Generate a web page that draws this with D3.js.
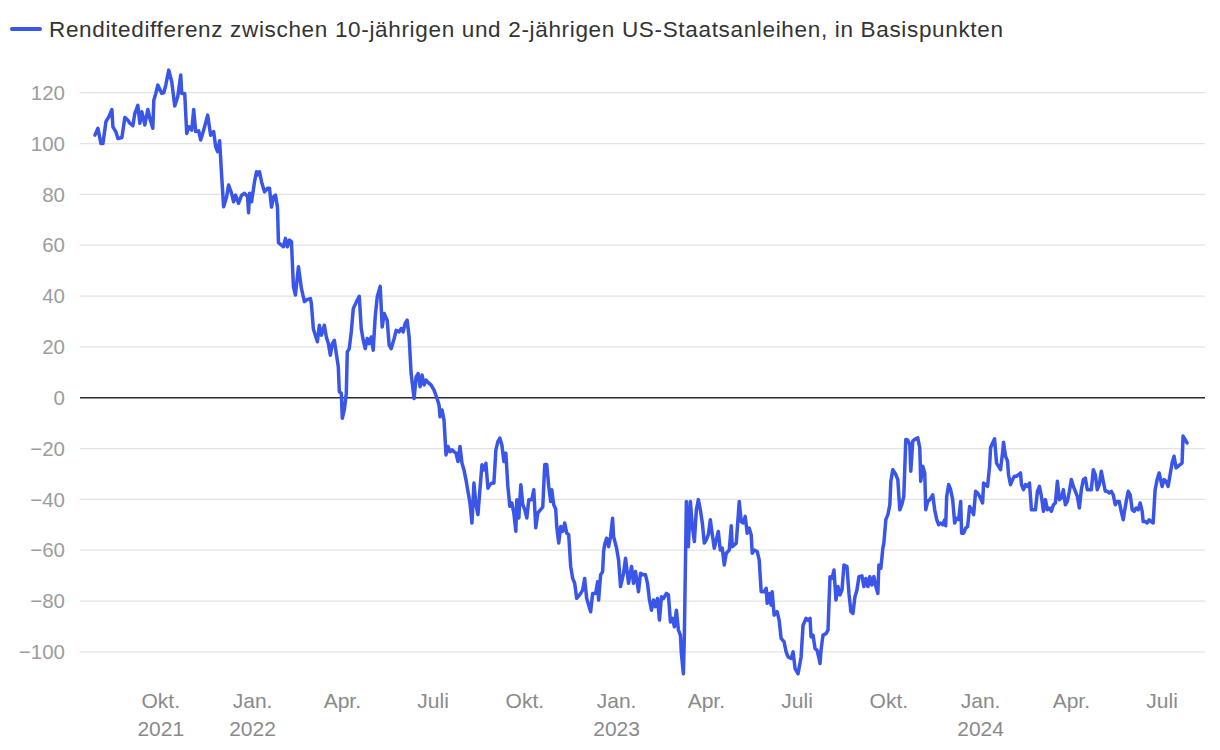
<!DOCTYPE html>
<html><head><meta charset="utf-8">
<script src="https://cdn.jsdelivr.net/npm/d3@7"></script>
<style>
body{margin:0;background:#fff}
svg{display:block}
text{font-family:"Liberation Sans", Arial, Helvetica, sans-serif}
</style>
</head><body>
<svg id="chart" width="1220" height="750"></svg>
<script>
const legendLabel = "Renditedifferenz zwischen 10-jährigen und 2-jährigen US-Staatsanleihen, in Basispunkten";

const dates = [
"2021-07-27","2021-07-30","2021-08-02","2021-08-04","2021-08-07","2021-08-10","2021-08-13","2021-08-14","2021-08-17","2021-08-19",
"2021-08-23","2021-08-26","2021-08-29","2021-08-31","2021-09-03","2021-09-05","2021-09-08","2021-09-10","2021-09-12","2021-09-15",
"2021-09-18","2021-09-20","2021-09-23","2021-09-24","2021-09-26","2021-09-28","2021-10-02","2021-10-04","2021-10-06","2021-10-09",
"2021-10-12","2021-10-15","2021-10-18","2021-10-21","2021-10-22","2021-10-25","2021-10-27","2021-10-29","2021-11-01","2021-11-03",
"2021-11-05","2021-11-08","2021-11-10","2021-11-13","2021-11-17","2021-11-20","2021-11-23","2021-11-25","2021-11-27","2021-11-29",
"2021-12-01","2021-12-03","2021-12-06","2021-12-08","2021-12-11","2021-12-13","2021-12-15","2021-12-18","2021-12-21","2021-12-24",
"2021-12-27","2021-12-28","2021-12-29","2021-12-31","2022-01-03","2022-01-05","2022-01-06","2022-01-08","2022-01-10","2022-01-13",
"2022-01-16","2022-01-18","2022-01-20","2022-01-22","2022-01-24","2022-01-26","2022-01-27","2022-01-30","2022-02-01","2022-02-03",
"2022-02-05","2022-02-07","2022-02-09","2022-02-11","2022-02-13","2022-02-16","2022-02-19","2022-02-22","2022-02-25","2022-02-28",
"2022-03-01","2022-03-03","2022-03-06","2022-03-07","2022-03-09","2022-03-11","2022-03-14","2022-03-16","2022-03-18","2022-03-20",
"2022-03-22","2022-03-24","2022-03-26","2022-03-28","2022-03-29","2022-03-31","2022-04-01","2022-04-03","2022-04-05","2022-04-06",
"2022-04-08","2022-04-10","2022-04-12","2022-04-15","2022-04-18","2022-04-20","2022-04-22","2022-04-24","2022-04-26","2022-04-28",
"2022-04-30","2022-05-02","2022-05-04","2022-05-06","2022-05-09","2022-05-11","2022-05-13","2022-05-16","2022-05-18","2022-05-20",
"2022-05-23","2022-05-25","2022-05-28","2022-05-30","2022-06-01","2022-06-03","2022-06-05","2022-06-07","2022-06-09","2022-06-12",
"2022-06-14","2022-06-16","2022-06-18","2022-06-20","2022-06-22","2022-06-24","2022-06-27","2022-06-29","2022-07-02","2022-07-05",
"2022-07-07","2022-07-08","2022-07-10","2022-07-12","2022-07-14","2022-07-16","2022-07-18","2022-07-20","2022-07-22","2022-07-24",
"2022-07-26","2022-07-28","2022-07-30","2022-08-01","2022-08-03","2022-08-05","2022-08-07","2022-08-09","2022-08-11","2022-08-13",
"2022-08-15","2022-08-17","2022-08-19","2022-08-21","2022-08-23","2022-08-25","2022-08-27","2022-08-29","2022-08-31","2022-09-02",
"2022-09-04","2022-09-06","2022-09-08","2022-09-10","2022-09-12","2022-09-14","2022-09-16","2022-09-18","2022-09-20","2022-09-22",
"2022-09-23","2022-09-25","2022-09-27","2022-09-29","2022-10-01","2022-10-03","2022-10-05","2022-10-08","2022-10-10","2022-10-12",
"2022-10-14","2022-10-19","2022-10-21","2022-10-23","2022-10-25","2022-10-27","2022-10-28","2022-10-30","2022-11-01","2022-11-02",
"2022-11-04","2022-11-06","2022-11-08","2022-11-10","2022-11-12","2022-11-14","2022-11-16","2022-11-18","2022-11-20","2022-11-22",
"2022-11-25","2022-11-28","2022-11-30","2022-12-02","2022-12-04","2022-12-06","2022-12-08","2022-12-11","2022-12-13","2022-12-14",
"2022-12-16","2022-12-18","2022-12-19","2022-12-20","2022-12-22","2022-12-24","2022-12-26","2022-12-28","2022-12-29","2023-01-01",
"2023-01-03","2023-01-05","2023-01-08","2023-01-10","2023-01-13","2023-01-16","2023-01-18","2023-01-20","2023-01-23","2023-01-25",
"2023-01-28","2023-01-30","2023-02-01","2023-02-03","2023-02-05","2023-02-07","2023-02-09","2023-02-11","2023-02-13","2023-02-15",
"2023-02-17","2023-02-20","2023-02-22","2023-02-24","2023-02-26","2023-02-28","2023-03-02","2023-03-04","2023-03-06","2023-03-07",
"2023-03-09","2023-03-10","2023-03-12","2023-03-14","2023-03-16","2023-03-18","2023-03-20","2023-03-22","2023-03-24","2023-03-26",
"2023-03-28","2023-03-30","2023-04-01","2023-04-03","2023-04-05","2023-04-07","2023-04-09","2023-04-11","2023-04-13","2023-04-15",
"2023-04-17","2023-04-19","2023-04-21","2023-04-24","2023-04-26","2023-04-27","2023-04-29","2023-05-01","2023-05-04","2023-05-06",
"2023-05-08","2023-05-10","2023-05-12","2023-05-14","2023-05-16","2023-05-17","2023-05-19","2023-05-22","2023-05-24","2023-05-26",
"2023-05-29","2023-05-31","2023-06-01","2023-06-03","2023-06-05","2023-06-06","2023-06-08","2023-06-11","2023-06-13","2023-06-15",
"2023-06-18","2023-06-20","2023-06-22","2023-06-25","2023-06-27","2023-06-29","2023-07-02","2023-07-05","2023-07-07","2023-07-10",
"2023-07-12","2023-07-14","2023-07-15","2023-07-17","2023-07-19","2023-07-21","2023-07-23","2023-07-24","2023-07-25","2023-07-27",
"2023-07-30","2023-08-01","2023-08-03","2023-08-05","2023-08-07","2023-08-09","2023-08-11","2023-08-13","2023-08-15","2023-08-17",
"2023-08-20","2023-08-22","2023-08-24","2023-08-26","2023-08-28","2023-08-30","2023-09-01","2023-09-04","2023-09-06","2023-09-08",
"2023-09-10","2023-09-12","2023-09-14","2023-09-16","2023-09-18","2023-09-20","2023-09-21","2023-09-23","2023-09-25","2023-09-26",
"2023-09-28","2023-09-30","2023-10-02","2023-10-03","2023-10-05","2023-10-08","2023-10-10","2023-10-12","2023-10-14","2023-10-16",
"2023-10-18","2023-10-20","2023-10-22","2023-10-23","2023-10-25","2023-10-27","2023-10-30","2023-11-01","2023-11-02","2023-11-04",
"2023-11-06","2023-11-07","2023-11-09","2023-11-11","2023-11-14","2023-11-16","2023-11-18","2023-11-20","2023-11-22","2023-11-24",
"2023-11-26","2023-11-27","2023-11-28","2023-11-30","2023-12-02","2023-12-04","2023-12-06","2023-12-08","2023-12-10","2023-12-12",
"2023-12-13","2023-12-15","2023-12-17","2023-12-19","2023-12-21","2023-12-23","2023-12-25","2023-12-27","2023-12-29","2023-12-31",
"2024-01-03","2024-01-04","2024-01-06","2024-01-08","2024-01-10","2024-01-11","2024-01-13","2024-01-15","2024-01-17","2024-01-19",
"2024-01-21","2024-01-23","2024-01-24","2024-01-26","2024-01-28","2024-01-29","2024-01-31","2024-02-02","2024-02-04","2024-02-06",
"2024-02-08","2024-02-10","2024-02-11","2024-02-13","2024-02-15","2024-02-17","2024-02-19","2024-02-21","2024-02-23","2024-02-25",
"2024-02-27","2024-02-29","2024-03-02","2024-03-04","2024-03-06","2024-03-08","2024-03-10","2024-03-12","2024-03-14","2024-03-16",
"2024-03-18","2024-03-20","2024-03-22","2024-03-24","2024-03-26","2024-03-28","2024-03-30","2024-04-01","2024-04-03","2024-04-05",
"2024-04-07","2024-04-09","2024-04-11","2024-04-13","2024-04-15","2024-04-17","2024-04-19","2024-04-21","2024-04-23","2024-04-25",
"2024-04-27","2024-04-29","2024-05-01","2024-05-03","2024-05-05","2024-05-07","2024-05-09","2024-05-11","2024-05-13","2024-05-15",
"2024-05-17","2024-05-19","2024-05-21","2024-05-23","2024-05-24","2024-05-26","2024-05-28","2024-05-30","2024-06-01","2024-06-03",
"2024-06-05","2024-06-07","2024-06-09","2024-06-11","2024-06-12","2024-06-14","2024-06-16","2024-06-18","2024-06-20","2024-06-22",
"2024-06-23","2024-06-24","2024-06-26","2024-06-28","2024-07-01","2024-07-03","2024-07-05","2024-07-07","2024-07-09","2024-07-11",
"2024-07-13","2024-07-15","2024-07-17","2024-07-19","2024-07-21","2024-07-22","2024-07-24","2024-07-26"
];

const spread = [
103.3,106,100,100,108.6,110.6,113.4,106.6,104.6,102,
102.4,110.3,109.2,108,107,111.9,115,108,112.5,107.3,
113.4,110,106,117,119.7,123,119.7,120,123,128.9,
124.3,114.8,118.4,127,119.7,119.7,104,106.6,105.3,113.4,
104.7,105,101.4,105.3,111.2,103.3,104.7,98.8,96.8,101.1,
87.6,75.1,79.1,83.7,80.4,77.1,79.7,76.5,79.7,80.4,
79.1,72.8,80.4,77.1,85,88.9,87.6,88.9,85,81,
82.4,82.4,75,79,79.7,75,61,60,59.4,62.7,
59.4,62,61.4,43.7,40.4,51.5,43,37.8,38.7,39,
37,27,23.3,22,28.5,24.6,28.5,23.9,21.3,16.7,
21.3,22.6,17.4,12.2,2.4,1.7,-8.1,-4.8,1.7,18,
19.3,25.9,35,37.6,39.9,27.2,22.6,19.3,23.3,21.3,
23.9,18.7,31.8,39.6,43.8,27.8,33.1,30.5,20.7,19.3,
23.3,26.5,25.9,27.2,25.9,29.2,30.5,23.9,9.5,-0.3,
8.2,9.5,4.3,8.9,5,6.9,5.6,5,3,-0.3,
-2.9,-7.5,-4.8,-8.8,-22.5,-19.2,-21.2,-20.5,-21.2,-21.8,
-25.1,-19.2,-25.8,-28.4,-32.3,-36.9,-41.4,-49.3,-33.6,-42.1,
-46,-36.2,-26.4,-28.4,-25.8,-35.6,-34.2,-33.6,-33.6,-20.5,
-17.3,-15.9,-18.6,-25.1,-21.8,-34.9,-42.7,-41.4,-45.4,-52.5,
-40.1,-47.3,-34.2,-42.1,-44.1,-47.3,-40.1,-40.1,-36.2,-51.2,
-45.4,-43,-26.3,-26.3,-34.9,-40.8,-36.2,-42.1,-43.8,-50.7,
-57.2,-50.7,-52.6,-49.3,-53.3,-53.9,-66.4,-71.1,-73,-78.9,
-77.6,-75.7,-71.1,-78.9,-81.6,-84.2,-77,-77,-72.4,-79.6,
-69.7,-68.4,-60.5,-57.9,-55.3,-58.6,-54.6,-47.4,-54.6,-59.2,
-63.8,-74.3,-69.1,-63.2,-73,-66.4,-73,-68.4,-76.3,-69.1,
-69.7,-69.7,-73,-79.6,-83.6,-79.6,-82.2,-79,-87.5,-78.3,
-79,-77,-77.6,-88.2,-86.8,-90.1,-83.6,-91.4,-93.4,-100.7,
-108.6,-92.8,-40.8,-58.6,-40.8,-50.7,-56.6,-44.1,-40.1,-44.1,
-49.3,-57.2,-55.9,-53.9,-48,-53.9,-59.2,-55.9,-52.6,-59.9,
-59.2,-65.8,-61.2,-59.9,-50.4,-58.6,-57.9,-57.2,-40.8,-48.7,
-49.3,-46.7,-53.3,-51.3,-54,-61.2,-59.9,-60.5,-63.8,-76.3,
-76.3,-75,-80.9,-77,-81.6,-76.3,-85.5,-84.2,-87.5,-94.7,
-96.1,-100,-102,-102.6,-100,-106.6,-108.6,-102,-89.5,-86.8,
-87.5,-86.8,-94.1,-93.4,-98.7,-99.3,-102.6,-104.6,-99.3,-93.4,
-92.8,-91.4,-70.4,-71.1,-67.8,-79.6,-74.3,-77.6,-75.7,-65.8,
-66.4,-77,-84.2,-84.9,-78.3,-75.7,-70.4,-70.1,-74.3,-71.1,
-74.3,-70.4,-73.7,-70.4,-74.3,-77,-65.8,-67.1,-59.2,-57.2,
-48,-46,-42.1,-32.9,-28.3,-30.3,-32.2,-44.1,-42.1,-38.8,
-16.4,-16.7,-18.4,-28.9,-17.1,-16.4,-15.8,-19.7,-32.9,-27,
-29.6,-44.1,-40.8,-40.1,-38.2,-44.1,-48,-50,-49.3,-50,
-48,-50.4,-38.8,-34.2,-36.2,-40.1,-49.3,-47.4,-48,-40.8,
-53.3,-53.3,-51.3,-50.7,-42.8,-44.1,-46,-36.8,-37.5,-38.8,
-41.4,-33.6,-34.2,-34.9,-27,-19.7,-17.8,-16.2,-25.7,-27,
-28.3,-21.7,-17.5,-23,-25,-30.3,-34.2,-32.2,-30.9,-30.9,
-30.3,-29.6,-34.2,-36.2,-34.2,-34.9,-33.6,-44.1,-44.1,-44.1,
-36.8,-34.9,-38.8,-44.7,-40.1,-44.1,-43.4,-44.7,-42.1,-41.4,
-32.9,-40.1,-39.5,-36.2,-42.1,-40.8,-36.8,-32.2,-34.9,-36.8,
-38.8,-43.4,-36.2,-32.2,-31.6,-36.2,-36.2,-36.2,-28.3,-30.3,
-36.2,-34.2,-28.9,-32.9,-36.8,-36.8,-37.5,-36.8,-38.2,-42.1,
-40.8,-40.8,-44.7,-48,-45.4,-40.8,-36.8,-38.2,-44.1,-44.7,
-43.4,-44.1,-41.4,-44.7,-48.7,-48.7,-49.3,-48,-48.7,-49.3,
-42.8,-36.2,-32.2,-29.6,-34.9,-32.2,-32.9,-34.9,-30.3,-25.7,
-23,-27.6,-27,-26.3,-25.7,-15.1,-16.4,-17.8
];

const yTicks = [-100, -80, -60, -40, -20, 0, 20, 40, 60, 80, 100, 120];
const xTickDates = ["2021-10-01","2022-01-01","2022-04-01","2022-07-01","2022-10-01","2023-01-01","2023-04-01","2023-07-01","2023-10-01","2024-01-01","2024-04-01","2024-07-01"];
const xTickMonths = ["Okt.","Jan.","Apr.","Juli","Okt.","Jan.","Apr.","Juli","Okt.","Jan.","Apr.","Juli"];
const xTickYears = ["2021","2022","","","","2023","","","","2024","",""];

const parse = d3.utcParse("%Y-%m-%d");
const data = dates.map((d, i) => ({date: parse(d), value: spread[i]}));

const svg = d3.select("#chart");
const left = 80, right = 1205;

const x = d3.scaleUtc()
  .domain([parse("2021-07-12"), parse("2024-08-13")])
  .range([left, right]);
const y = d3.scaleLinear()
  .domain([-110, 130])
  .range([677.3, 67.3]);

// gridlines
svg.append("g").selectAll("line")
  .data(yTicks.filter(t => t !== 0))
  .join("line")
  .attr("x1", left).attr("x2", right)
  .attr("y1", d => y(d)).attr("y2", d => y(d))
  .attr("stroke", "#e3e3e3").attr("stroke-width", 1.3);

// y labels
const fmt = v => v < 0 ? "\u2212" + Math.abs(v) : String(v);
svg.append("g").selectAll("text")
  .data(yTicks)
  .join("text")
  .attr("x", 65).attr("y", d => y(d))
  .attr("dy", "0.35em")
  .attr("text-anchor", "end")
  .attr("font-size", 20.5)
  .attr("fill", "#9d9d9d")
  .text(fmt);

// zero line
svg.append("line")
  .attr("x1", left).attr("x2", right)
  .attr("y1", y(0)).attr("y2", y(0))
  .attr("stroke", "#2b2b2b").attr("stroke-width", 1.6);

// x labels
const xg = svg.append("g").selectAll("g")
  .data(xTickDates.map((d, i) => ({date: parse(d), m: xTickMonths[i], yr: xTickYears[i]})))
  .join("g")
  .attr("transform", d => `translate(${x(d.date)},0)`);
xg.append("text")
  .attr("y", 708).attr("text-anchor", "middle")
  .attr("font-size", 21).attr("fill", "#8a8a8a")
  .text(d => d.m);
xg.append("text")
  .attr("y", 736).attr("text-anchor", "middle")
  .attr("font-size", 21).attr("fill", "#8a8a8a")
  .text(d => d.yr);

// line
const line = d3.line()
  .x(d => x(d.date))
  .y(d => y(d.value))
  .curve(d3.curveLinear);
svg.append("path")
  .datum(data)
  .attr("d", line)
  .attr("fill", "none")
  .attr("stroke", "#3a56e8")
  .attr("stroke-width", 3.5)
  .attr("stroke-linejoin", "round")
  .attr("stroke-linecap", "round");

// legend
svg.append("line")
  .attr("x1", 12).attr("x2", 40)
  .attr("y1", 29).attr("y2", 29)
  .attr("stroke", "#3a56e8").attr("stroke-width", 4)
  .attr("stroke-linecap", "round");
svg.append("text")
  .attr("x", 49).attr("y", 36.5)
  .attr("font-size", 22.5)
  .attr("fill", "#333")
  .attr("textLength", 954)
  .attr("lengthAdjust", "spacing")
  .text(legendLabel);
</script>
</body></html>
